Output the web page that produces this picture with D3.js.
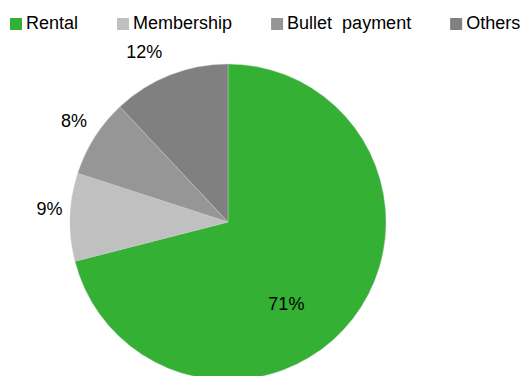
<!DOCTYPE html>
<html>
<head>
<meta charset="utf-8">
<script src="https://cdn.jsdelivr.net/npm/d3@7"></script>
<style>
  html, body { margin: 0; padding: 0; background: #fff; }
  svg { display: block; font-family: "Liberation Sans", Arial, sans-serif; }
</style>
</head>
<body>
<svg id="chart" width="526" height="376"></svg>
<script>
// Revenue mix by source (share of total, %)
const categories = ["Rental", "Membership", "Bullet payment", "Others"];
const shares = [71, 9, 8, 12];
const colors = ["#34B034", "#C0C0C0", "#969696", "#808080"];

const width = 526, height = 376;
const cx = 228, cy = 222, radius = 158;

const svg = d3.select("#chart");

// ---- legend along the top ----
const legend = svg.append("g").attr("class", "legend");
let lx = 10;
categories.forEach((name, i) => {
  const item = legend.append("g");
  item.append("rect")
    .attr("x", lx).attr("y", 18)
    .attr("width", 12).attr("height", 12)
    .attr("fill", colors[i]);
  const t = item.append("text")
    .attr("x", lx + 16).attr("y", 28.5)
    .attr("font-size", 18)
    .attr("word-spacing", 5)
    .attr("fill", "#000")
    .text(name);
  lx += 16 + t.node().getComputedTextLength() + 39;
});

// ---- pie, clockwise from 12 o'clock ----
const pie = d3.pie().sort(null).value(d => d.value);
const data = pie(categories.map((c, i) => ({ name: c, value: shares[i], color: colors[i] })));
const arc = d3.arc().innerRadius(0).outerRadius(radius);

const g = svg.append("g").attr("transform", `translate(${cx},${cy})`);
g.selectAll("path.slice")
  .data(data)
  .join("path")
  .attr("class", "slice")
  .attr("d", arc)
  .attr("fill", d => d.data.color)
  .attr("stroke", "#d0d0d0")
  .attr("stroke-width", 0.4);

// ---- value labels ----
// Large slice: label sits inside the slice; small slices: label just outside the rim.
g.selectAll("text.value")
  .data(data)
  .join("text")
  .attr("class", "value")
  .attr("font-size", 18)
  .attr("fill", "#000")
  .each(function (d) {
    const mid = (d.startAngle + d.endAngle) / 2;
    const sel = d3.select(this);
    if (d.endAngle - d.startAngle > Math.PI) {
      const a = mid + 0.29, r = radius * 0.635;
      sel.attr("text-anchor", "middle")
        .attr("x", Math.sin(a) * r)
        .attr("y", -Math.cos(a) * r + 6.5);
    } else {
      const dx = Math.sin(mid), dy = -Math.cos(mid);
      const px = dx * radius, py = dy * radius;
      sel.attr("text-anchor", "end")
        .attr("x", px - 7.5)
        .attr("y", py + 16 * dy - 2);
    }
  })
  .text(d => d.data.value + "%");
</script>
</body>
</html>
